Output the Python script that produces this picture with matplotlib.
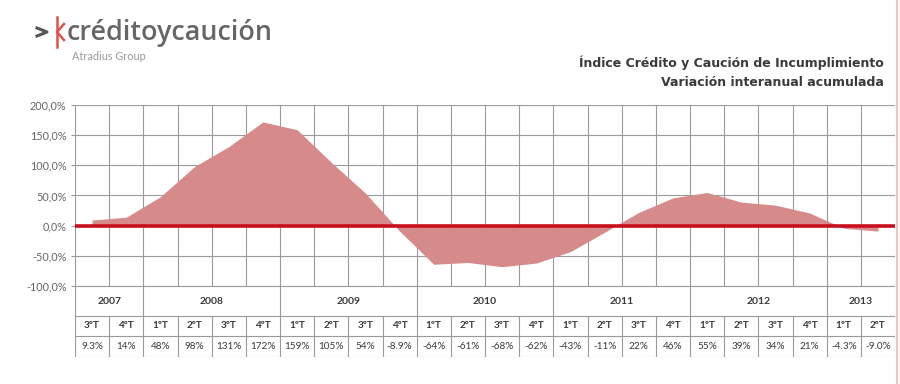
import numpy as np
import matplotlib
matplotlib.use("Agg")
import matplotlib.pyplot as plt
from matplotlib.lines import Line2D

plt.rcParams["font.family"] = ["Lato", "DejaVu Sans"]

years = ["2007", "2008", "2009", "2010", "2011", "2012", "2013"]
year_quarters = [2, 4, 4, 4, 4, 4, 2]
quarters = ["3ºT", "4ºT",
            "1ºT", "2ºT", "3ºT", "4ºT",
            "1ºT", "2ºT", "3ºT", "4ºT",
            "1ºT", "2ºT", "3ºT", "4ºT",
            "1ºT", "2ºT", "3ºT", "4ºT",
            "1ºT", "2ºT", "3ºT", "4ºT",
            "1ºT", "2ºT"]
values = [9.3, 14, 48, 98, 131, 172, 159, 105, 54, -8.9,
          -64, -61, -68, -62, -43, -11, 22, 46, 55, 39, 34, 21, -4.3, -9.0]
value_labels = ["9.3%", "14%", "48%", "98%", "131%", "172%", "159%", "105%",
                "54%", "-8.9%", "-64%", "-61%", "-68%", "-62%", "-43%", "-11%",
                "22%", "46%", "55%", "39%", "34%", "21%", "-4.3%", "-9.0%"]
yticks = [-100, -50, 0, 50, 100, 150, 200]

FILL = "#d68a8a"
ZERO = "#c8101c"
GRID = "#9a9a9a"
TXT = "#3a3a3a"

W, H = 900, 384
fig = plt.figure(figsize=(9, 3.84), dpi=100)
fig.patch.set_facecolor("white")


def fx(px):
    return px / W


def fy(py):
    return 1 - py / H


n = len(values)
left, right = 75, 895
top, bottom = 105, 286

# main area chart
ax = fig.add_axes([fx(left), fy(bottom), fx(right - left), (bottom - top) / H])
x = np.arange(n) + 0.5
ax.fill_between(x, values, 0, color=FILL, linewidth=0, zorder=2)
ax.axhline(0, color=ZERO, linewidth=2.6, zorder=3)
ax.set_xlim(0, n)
ax.set_ylim(-100, 200)
ax.set_yticks(yticks)
ax.set_yticklabels([f"{v:.1f}%".replace(".", ",") for v in yticks],
                   fontsize=7.8, color="#666666")
ax.set_xticks([])
for xv in range(n + 1):
    ax.axvline(xv, color=GRID, linewidth=0.8, zorder=1)
for yv in yticks:
    ax.axhline(yv, color=GRID, linewidth=0.8, zorder=1)
for s in ax.spines.values():
    s.set_visible(False)
ax.tick_params(axis="y", length=3, color=GRID, pad=3)

# data table under the chart
tab = fig.add_axes([fx(left), fy(357), fx(right - left), (357 - bottom) / H])
tab.set_xlim(0, n)
tab.set_ylim(0, 71)
tab.axis("off")
row_lines = [71, 41, 21, 0]
for yv in row_lines:
    tab.add_line(Line2D([0, n], [yv, yv], color=GRID, linewidth=0.8))
edges = np.concatenate([[0], np.cumsum(year_quarters)])
for xv in edges:
    tab.add_line(Line2D([xv, xv], [41, 71], color=GRID, linewidth=0.8))
for xv in range(n + 1):
    tab.add_line(Line2D([xv, xv], [0, 41], color=GRID, linewidth=0.8))
for i, yr in enumerate(years):
    tab.text((edges[i] + edges[i + 1]) / 2, 56, yr, ha="center", va="center",
             fontsize=7.5, color=TXT, fontweight="bold")
for i, (q, v) in enumerate(zip(quarters, value_labels)):
    tab.text(i + 0.5, 31, q, ha="center", va="center", fontsize=7.2,
             color=TXT, fontweight="bold")
    tab.text(i + 0.5, 10.5, v, ha="center", va="center", fontsize=7.2,
             color=TXT)

# logo
fig.add_artist(Line2D([fx(37), fx(47), fx(37)], [fy(28), fy(32), fy(36)],
                      color="#555555", linewidth=2.2))
fig.add_artist(Line2D([fx(57), fx(57)], [fy(17), fy(47)],
                      color="#d9534f", linewidth=1.8))
fig.add_artist(Line2D([fx(64), fx(57), fx(64)], [fy(24), fy(32), fy(40)],
                      color="#d9534f", linewidth=1.8))
fig.text(fx(67), fy(33), "créditoycaución", fontsize=19.4, color="#666666",
         fontweight="semibold", family=["Open Sans", "DejaVu Sans"],
         ha="left", va="center")
fig.text(fx(72), fy(57), "Atradius Group", fontsize=7.8, color="#9a9a9a",
         ha="left", va="center")

# title
fig.text(fx(884), fy(63), "Índice Crédito y Caución de Incumplimiento",
         fontsize=9, fontweight="bold", color=TXT, ha="right", va="center",
         family=["DejaVu Sans"])
fig.text(fx(884), fy(82), "Variación interanual acumulada",
         fontsize=9, fontweight="bold", color=TXT, ha="right", va="center",
         family=["DejaVu Sans"])

# faint frame on the right edge
fig.add_artist(Line2D([fx(897), fx(897)], [0, 1], color="#f2c4c4", linewidth=1.5))

fig.savefig("out.png", dpi=100)
